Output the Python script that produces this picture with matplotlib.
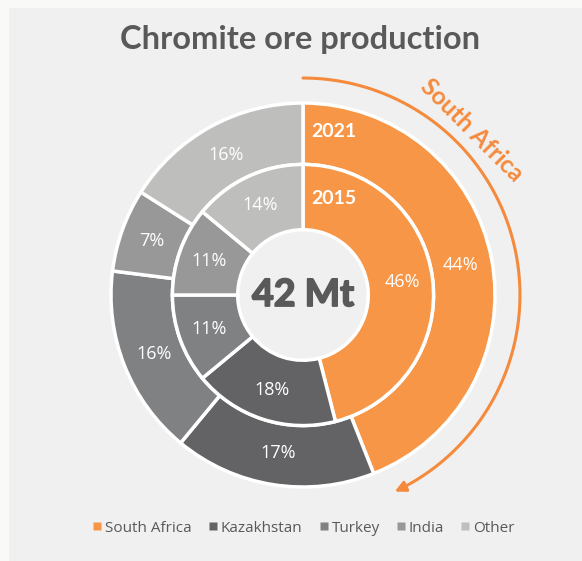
import numpy as np
import matplotlib.pyplot as plt
import matplotlib.patheffects as pe
from matplotlib.patches import FancyArrowPatch, Rectangle
from matplotlib.path import Path
from matplotlib.lines import Line2D

countries = ["South Africa", "Kazakhstan", "Turkey", "India", "Other"]
share_2021 = [44, 17, 16, 7, 16]
share_2015 = [46, 18, 11, 11, 14]
colors = ["#F79646", "#636365", "#808182", "#979897", "#BEBEBC"]

W, H = 582, 561
cx, cy, R = 303, 295, 192  # donut centre / radius in pixels

fig = plt.figure(figsize=(W / 100, H / 100), dpi=100, facecolor="#F9F9F7")
fig.patches.append(Rectangle((9 / W, 0), 1, (H - 8) / H, transform=fig.transFigure,
                             facecolor="#F0F0F0", edgecolor="none", zorder=-5))
ax = fig.add_axes([0, 0, 1, 1])
ax.set_facecolor("none")

wp = dict(edgecolor="white", linewidth=2.5)
outer, _ = ax.pie(share_2021, colors=colors, startangle=90, counterclock=False,
                  radius=1.0, wedgeprops=dict(width=0.32, **wp))
inner, _ = ax.pie(share_2015, colors=colors, startangle=90, counterclock=False,
                  radius=0.68, wedgeprops=dict(width=0.34, **wp))

def put_pct(wedges, vals, r):
    for w, v in zip(wedges, vals):
        a = np.deg2rad((w.theta1 + w.theta2) / 2)
        ax.text(r * np.cos(a), r * np.sin(a), f"{v}%", ha="center", va="center",
                color="white", fontsize=13, family="Open Sans")

put_pct(outer, share_2021, 0.835)
put_pct(inner, share_2015, 0.52)

ax.text(0.045, 0.85, "2021", color="white", fontsize=14, fontweight="bold",
        family="Lato", ha="left", va="center")
ax.text(0.045, 0.5, "2015", color="white", fontsize=14, fontweight="bold",
        family="Lato", ha="left", va="center")
ax.text(0.0, 0.0, "42 Mt", color="#595959", fontsize=27, fontweight="bold",
        family="Lato", ha="center", va="center",
        path_effects=[pe.withStroke(linewidth=1.3, foreground="#595959")])

# curved arrow around South Africa
t = np.deg2rad(np.linspace(90, -65, 120))
ra = 1.13
arc = Path(np.column_stack([ra * np.cos(t), ra * np.sin(t)]))
ax.add_patch(FancyArrowPatch(path=arc, arrowstyle="-|>", mutation_scale=16,
                             color="#F58A3C", linewidth=2.2))
ax.text(0.88, 0.86, "South Africa", color="#F58A3C", fontsize=17.5, rotation=-45,
        family="Lato", fontweight="bold", ha="center", va="center")

ax.set_xlim(-cx / R, (W - cx) / R)
ax.set_ylim((cy - H) / R, cy / R)
ax.set_aspect("equal")
ax.axis("off")

fig.text(300 / W, 1 - 40 / H, "Chromite ore production", ha="center", va="center",
         fontsize=23.5, fontweight="bold", color="#595959", family="Lato")

handles = [Line2D([], [], marker="s", linestyle="none", markersize=6,
                  markerfacecolor=c, markeredgecolor="none") for c in colors]
fig.legend(handles, countries, loc="center", bbox_to_anchor=(303 / W, 1 - 528 / H),
           ncol=5, frameon=False, handletextpad=0.1, columnspacing=1.0,
           handlelength=0.8, prop={"family": "Open Sans", "size": 11},
           labelcolor="#595959")

fig.savefig("out.png", dpi=100, facecolor=fig.get_facecolor())
